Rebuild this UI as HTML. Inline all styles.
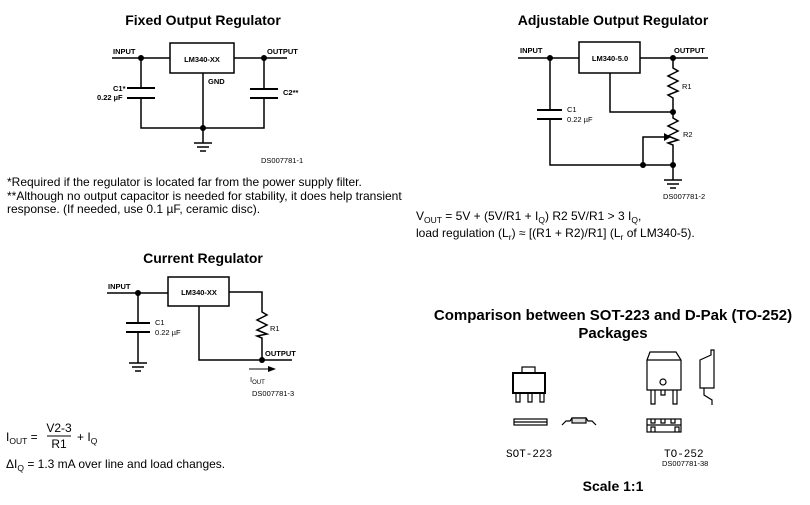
<!DOCTYPE html>
<html><head><meta charset="utf-8"><style>
html,body{margin:0;padding:0;background:#fff;}
svg{display:block;}
text{font-family:"Liberation Sans",Arial,sans-serif;fill:#000;}
.t{font-size:14px;font-weight:bold;text-anchor:middle;}
.s{font-size:7.5px;font-weight:bold;}
.n{font-size:12px;}
.w{stroke:#000;stroke-width:1.5;fill:none;}
</style></head><body>
<svg width="810" height="505" viewBox="0 0 810 505" xmlns="http://www.w3.org/2000/svg">
<text class="t" x="203" y="25">Fixed Output Regulator</text>
<text class="t" x="613" y="25">Adjustable Output Regulator</text>
<text class="t" x="203" y="263">Current Regulator</text>
<text class="t" x="613" y="320" style="font-size:15px">Comparison between SOT-223 and D-Pak (TO-252)</text>
<text class="t" x="613" y="338" style="font-size:15px">Packages</text>
<text class="t" x="613" y="491">Scale 1:1</text>

<g class="w">
<path d="M112 58H170M234 58H287"/>
<rect x="170" y="43" width="64" height="30"/>
<path d="M141 58V88M141 98V128H264V98M264 88V58"/>
<path d="M127 88H155M127 98H155M250 89H278M250 98H278" stroke-width="2"/>
<path d="M203 73V143M194 143H212M197 147H209M200 151H206"/>
</g>
<circle cx="141" cy="58" r="3"/><circle cx="264" cy="58" r="3"/><circle cx="203" cy="128" r="3"/>
<text class="s" x="113" y="54">INPUT</text>
<text class="s" x="267" y="54">OUTPUT</text>
<text class="s" x="202" y="62" text-anchor="middle">LM340-XX</text>
<text class="s" x="208" y="84">GND</text>
<text class="s" x="113" y="91">C1*</text>
<text class="s" x="97" y="100">0.22 µF</text>
<text class="s" x="283" y="95">C2**</text>
<text class="s" x="261" y="163" style="font-weight:normal">DS007781-1</text>

<text class="n" x="7" y="186">*Required if the regulator is located far from the power supply filter.</text>
<text class="n" x="7" y="200">**Although no output capacitor is needed for stability, it does help transient</text>
<text class="n" x="7" y="213">response. (If needed, use 0.1 µF, ceramic disc).</text>

<g class="w">
<path d="M518 58H579M640 58H708"/>
<rect x="579" y="42" width="61" height="31"/>
<path d="M550 58V110M550 119V165H673"/>
<path d="M537 110H562M537 119H562" stroke-width="2"/>
<path d="M673 58V68L678 71L668 76L678 81L668 86L678 91L668 95L673 98V118L678 121L668 126L678 131L668 136L678 140L668 143L673 145V180"/>
<path d="M610 73V112H673"/>
<path d="M643 165V137H666"/>
<path d="M664 180H682M667 184H679M670 188H676"/>
</g>
<path d="M671 137L664 133V141Z"/>
<circle cx="550" cy="58" r="3"/><circle cx="673" cy="58" r="3"/><circle cx="673" cy="112" r="3"/><circle cx="643" cy="165" r="3"/><circle cx="673" cy="165" r="3"/>
<text class="s" x="520" y="53">INPUT</text>
<text class="s" x="674" y="53">OUTPUT</text>
<text class="s" x="610" y="61" text-anchor="middle">LM340-5.0</text>
<text class="s" x="682" y="89" style="font-weight:normal">R1</text>
<text class="s" x="683" y="137" style="font-weight:normal">R2</text>
<text class="s" x="567" y="112" style="font-weight:normal">C1</text>
<text class="s" x="567" y="122" style="font-weight:normal">0.22 µF</text>
<text class="s" x="663" y="199" style="font-weight:normal">DS007781-2</text>

<text class="n" x="416" y="220">V<tspan font-size="8.5" dy="3">OUT</tspan><tspan dy="-3"> = 5V + (5V/R1 + I</tspan><tspan font-size="8.5" dy="3">Q</tspan><tspan dy="-3">) R2 5V/R1 &gt; 3 I</tspan><tspan font-size="8.5" dy="3">Q</tspan><tspan dy="-3">,</tspan></text>
<text class="n" x="416" y="237">load regulation (L<tspan font-size="8.5" dy="3">r</tspan><tspan dy="-3">) ≈ [(R1 + R2)/R1] (L</tspan><tspan font-size="8.5" dy="3">r</tspan><tspan dy="-3"> of LM340-5).</tspan></text>

<g class="w">
<path d="M107 293H168M229 292H262V312L267 315L257 320L267 325L257 330L267 334L257 336L262 338V360H292"/>
<rect x="168" y="277" width="61" height="29"/>
<path d="M199 306V360H262"/>
<path d="M138 293V323M138 332V363"/>
<path d="M126 323H150M126 332H150" stroke-width="2"/>
<path d="M129 363H147M132 367H144M135 371H141"/>
<path d="M249 369H270" stroke-width="1"/>
</g>
<path d="M276 369L268 366V372Z"/>
<circle cx="138" cy="293" r="3"/><circle cx="262" cy="360" r="3"/>
<text class="s" x="108" y="289">INPUT</text>
<text class="s" x="199" y="295" text-anchor="middle">LM340-XX</text>
<text class="s" x="155" y="325" style="font-weight:normal">C1</text>
<text class="s" x="155" y="335" style="font-weight:normal">0.22 µF</text>
<text class="s" x="270" y="331" style="font-weight:normal">R1</text>
<text class="s" x="265" y="356">OUTPUT</text>
<text class="s" x="250" y="382" style="font-weight:normal">I<tspan font-size="6" dy="2">OUT</tspan></text>
<text class="s" x="252" y="396" style="font-weight:normal">DS007781-3</text>

<text class="n" x="6" y="441">I<tspan font-size="8.5" dy="3">OUT</tspan><tspan dy="-3"> = </tspan></text>
<text class="n" x="59" y="432" text-anchor="middle">V2-3</text>
<line x1="47" y1="436" x2="71" y2="436" stroke="#000" stroke-width="1"/>
<text class="n" x="59" y="448" text-anchor="middle">R1</text>
<text class="n" x="77" y="441">+ I<tspan font-size="8.5" dy="3">Q</tspan></text>
<text class="n" x="6" y="468">ΔI<tspan font-size="8.5" dy="3">Q</tspan><tspan dy="-3"> = 1.3 mA over line and load changes.</tspan></text>

<g stroke="#000" fill="none" stroke-width="1.2">
<rect x="513" y="373" width="32" height="20" stroke-width="2"/>
<rect x="522" y="367" width="13" height="6"/>
<path d="M516 393V402H520V393M528 393V402H532V393M540 393V402H544V393"/>
<rect x="514" y="419" width="33" height="6"/>
<path d="M514 422H547"/>
<path d="M562 425L566 421H570L572 418H586L588 421H592L596 425"/>
<rect x="572" y="418" width="14" height="5" fill="#ddd"/>
<path d="M647 390V360L650 352H676L681 360V390Z"/>
<path d="M647 360H681"/>
<circle cx="663" cy="382" r="3"/>
<path d="M651 390V404H655V390M673 390V404H677V390M661 390V395H665V390"/>
<path d="M700 360L711 355V350H714V388H700Z"/>
<path d="M704 388V395L712 400V405"/>
<rect x="647" y="419" width="34" height="13"/>
<path d="M647 425H681M651 419V423H655V419M661 419V423H665V419M671 419V423H675V419M651 432V427H655V432M675 432V427H679V432"/>
</g>
<text x="506" y="457" style="font-family:'Liberation Mono',monospace;font-size:11px">SOT-223</text>
<text x="664" y="457" style="font-family:'Liberation Mono',monospace;font-size:11px">TO-252</text>
<text class="s" x="662" y="466" style="font-weight:normal">DS007781-38</text>
</svg>
</body></html>
